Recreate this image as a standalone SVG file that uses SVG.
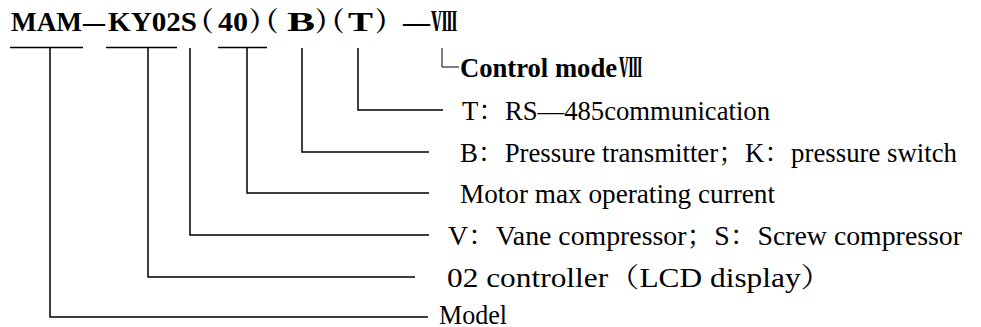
<svg xmlns="http://www.w3.org/2000/svg" width="981" height="327" viewBox="0 0 981 327">
<style>
text{font-family:"Liberation Serif",serif;font-size:27px;fill:#000}
.c{font-family:"Noto Serif CJK SC","Noto Sans CJK SC",serif}
.h{font-family:"Noto Serif CJK SC","Noto Sans CJK SC",serif;font-feature-settings:"halt"}
.b{font-weight:bold}
.ln{stroke:#000;stroke-width:1.5;fill:none}
.thin{stroke:#000;stroke-width:1;fill:none}
</style>
<rect width="981" height="327" fill="#fff"/>
<g id="title">
<text class="b" y="31"><tspan x="11" textLength="71" lengthAdjust="spacingAndGlyphs">MAM</tspan><tspan x="83" textLength="22" lengthAdjust="spacingAndGlyphs">—</tspan><tspan x="108" textLength="89" lengthAdjust="spacingAndGlyphs">KY02S</tspan><tspan class="h" x="200">（</tspan><tspan x="218" textLength="30" lengthAdjust="spacingAndGlyphs">40</tspan><tspan class="h" x="249">）</tspan><tspan class="h" x="265">（</tspan><tspan x="287" textLength="28" lengthAdjust="spacingAndGlyphs">B</tspan><tspan class="h" x="315">）</tspan><tspan class="h" x="331">（</tspan><tspan x="348" textLength="25" lengthAdjust="spacingAndGlyphs">T</tspan><tspan class="h" x="375">）</tspan><tspan x="403" textLength="27" lengthAdjust="spacingAndGlyphs">—</tspan><tspan class="c" x="431" textLength="26" lengthAdjust="spacingAndGlyphs">Ⅷ</tspan></text>
</g>
<g id="connectors">
<path class="ln" d="M10 47.5H83M106 47.5H177M218 47.5H267"/>
<path class="ln" d="M50 48V317H428"/>
<path class="ln" d="M148 48V277H415"/>
<path class="ln" d="M190 48V235H429"/>
<path class="ln" d="M247 48V193H429"/>
<path class="ln" d="M302 48V152H429"/>
<path class="ln" d="M358 48V110H443"/>
<path class="thin" d="M442 48V67H459"/>
</g>
<g id="label-control">
<text class="b" y="77"><tspan x="460" textLength="157" lengthAdjust="spacingAndGlyphs">Control mode</tspan><tspan class="c" x="619" textLength="23" lengthAdjust="spacingAndGlyphs">Ⅷ</tspan></text>
</g>
<g id="label-t">
<text x="462" y="120" textLength="308" lengthAdjust="spacingAndGlyphs">T<tspan class="c">：</tspan>RS—485communication</text>
</g>
<g id="label-b">
<text x="460" y="162" textLength="497" lengthAdjust="spacingAndGlyphs">B<tspan class="c">：</tspan>Pressure transmitter<tspan class="c">；</tspan>K<tspan class="c">：</tspan>pressure switch</text>
</g>
<g id="label-motor">
<text x="460" y="203" textLength="315" lengthAdjust="spacingAndGlyphs">Motor max operating current</text>
</g>
<g id="label-v">
<text x="448" y="245" textLength="514" lengthAdjust="spacingAndGlyphs">V<tspan class="c">：</tspan>Vane compressor<tspan class="c">；</tspan>S<tspan class="c">：</tspan>Screw compressor</text>
</g>
<g id="label-02">
<text x="447" y="287" textLength="385" lengthAdjust="spacingAndGlyphs">02 controller<tspan class="c">（</tspan>LCD display<tspan class="c">）</tspan></text>
</g>
<g id="label-model">
<text x="439" y="324" textLength="68" lengthAdjust="spacingAndGlyphs">Model</text>
</g>
</svg>
